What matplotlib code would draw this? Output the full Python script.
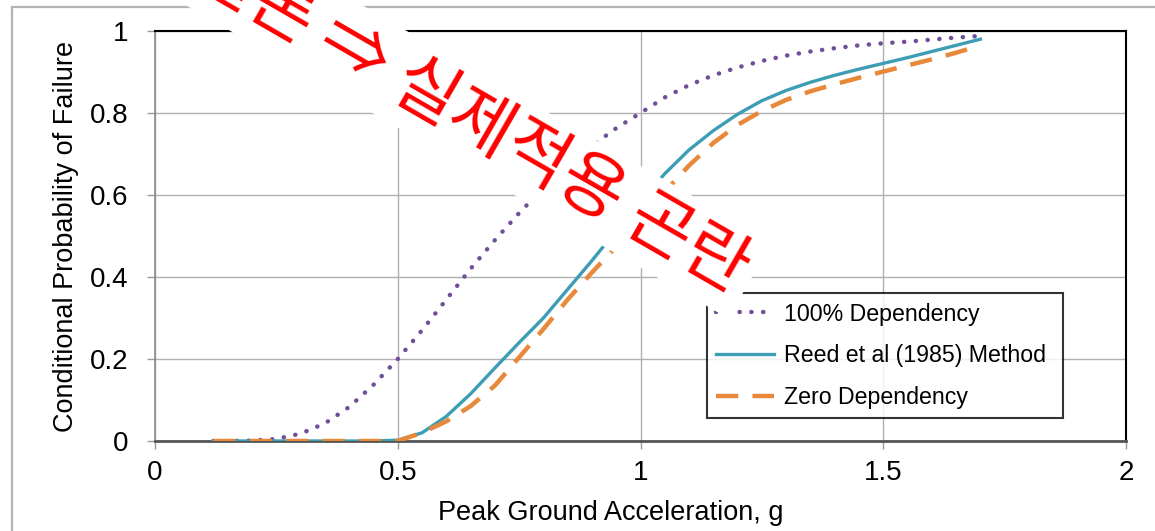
import matplotlib
matplotlib.use("Agg")
import matplotlib.pyplot as plt
from matplotlib.patches import Rectangle

# --- data (PGA in g, conditional probability of failure) ---
pga = [0.12, 0.15, 0.20, 0.25, 0.30, 0.35, 0.40, 0.45, 0.50, 0.55, 0.60, 0.65,
       0.70, 0.75, 0.80, 0.85, 0.90, 0.95, 1.00, 1.05, 1.10, 1.15, 1.20, 1.25,
       1.30, 1.35, 1.40, 1.45, 1.50, 1.55, 1.60, 1.65, 1.70]

p_full_dep = [0.0, 0.0, 0.001, 0.005, 0.018, 0.043, 0.083, 0.137, 0.200, 0.270,
              0.345, 0.420, 0.490, 0.556, 0.617, 0.672, 0.720, 0.763, 0.800,
              0.838, 0.868, 0.892, 0.911, 0.927, 0.940, 0.950, 0.958, 0.965,
              0.970, 0.974, 0.979, 0.984, 0.988]

p_reed = [0.0, 0.0, 0.0, 0.0, 0.0, 0.0, 0.0, 0.0, 0.002, 0.020, 0.060, 0.115,
          0.178, 0.240, 0.300, 0.370, 0.440, 0.513, 0.585, 0.652, 0.710, 0.757,
          0.797, 0.830, 0.855, 0.875, 0.892, 0.907, 0.921, 0.935, 0.950, 0.965,
          0.980]

p_zero_dep = [0.0, 0.0, 0.0, 0.0, 0.0, 0.0, 0.0, 0.0, 0.0, 0.020, 0.048, 0.085,
              0.135, 0.204, 0.273, 0.345, 0.411, 0.474, 0.541, 0.608, 0.672,
              0.727, 0.771, 0.805, 0.832, 0.853, 0.870, 0.886, 0.901, 0.916,
              0.931, 0.947, 0.965]

labels = ["100% Dependency", "Reed et al (1985) Method", "Zero Dependency"]
x_ticks = [0, 0.5, 1, 1.5, 2]
x_tick_labels = ["0", "0.5", "1", "1.5", "2"]
y_ticks = [0, 0.2, 0.4, 0.6, 0.8, 1]
y_tick_labels = ["0", "0.2", "0.4", "0.6", "0.8", "1"]
note = "결론 ⇒ 실제적용 곤란"

PURPLE = "#6f4f98"
TEAL = "#3d9db5"
ORANGE = "#e8883a"

plt.rcParams["font.family"] = ["Liberation Sans", "DejaVu Sans"]

W, H = 1155, 531
fig = plt.figure(figsize=(W / 100, H / 100), dpi=100)
fig.patch.set_facecolor("white")

# outer slide frame
fig.patches.append(Rectangle((12 / W, -0.2), 1.2, (H - 7) / H + 0.2,
                             transform=fig.transFigure, fill=False,
                             edgecolor="#b4b4b4", lw=1.6))

ax = fig.add_axes([155 / W, (H - 441) / H, 971 / W, 410 / H])

ax.plot(pga, p_full_dep, color=PURPLE, lw=3.2, ls=(0, (0.05, 2.6)),
        dash_capstyle="round", label=labels[0], zorder=3)
ax.plot(pga, p_reed, color=TEAL, lw=2.4, label=labels[1], zorder=4)
ax.plot(pga, p_zero_dep, color=ORANGE, lw=3.2, ls=(0, (5, 3.2)),
        label=labels[2], zorder=5)

ax.set_xlim(0, 2)
ax.set_ylim(0, 1)
ax.set_xticks(x_ticks)
ax.set_xticklabels(x_tick_labels)
ax.set_yticks(y_ticks)
ax.set_yticklabels(y_tick_labels)
ax.tick_params(labelsize=20, length=6, width=1, color="#999999")
ax.tick_params(axis="y", pad=13)
ax.tick_params(axis="x", pad=8)
ax.grid(True, color="#b0b0b0", lw=1)
ax.set_axisbelow(True)

ax.spines["left"].set_color("#8a8a8a")
ax.spines["left"].set_linewidth(1.2)
ax.spines["bottom"].set_color("#555555")
ax.spines["bottom"].set_linewidth(2)
ax.spines["top"].set_color("black")
ax.spines["top"].set_linewidth(1.5)
ax.spines["right"].set_color("black")
ax.spines["right"].set_linewidth(1.5)

ax.set_xlabel("Peak Ground Acceleration, g", fontsize=19.5)
ax.xaxis.set_label_coords((611 - 155) / 971, -0.145)
ax.set_ylabel("Conditional Probability of Failure", fontsize=19.5, labelpad=8)

leg = ax.legend(loc="lower left", bbox_to_anchor=((707 - 155) / 971, (441 - 418) / 410,
                                                  (1063 - 707) / 971, (418 - 294) / 410),
                mode="expand", fontsize=16.7, frameon=True, fancybox=False,
                handlelength=2.5, handletextpad=0.4, labelspacing=0.8,
                borderaxespad=0, borderpad=0.4)
leg.get_frame().set_edgecolor("black")
leg.get_frame().set_linewidth(1.5)
leg.set_zorder(6)

# red annotation with white box, running off the top of the slide
fig.text(743 / W, 1 - 276 / H, note, rotation=-30, rotation_mode="anchor",
         ha="right", va="center", color="red", fontsize=50,
         family=["Noto Sans CJK KR", "DejaVu Sans"], zorder=10,
         bbox=dict(boxstyle="square,pad=0.12", facecolor="white", edgecolor="none"))

fig.savefig("out.png", dpi=100)
